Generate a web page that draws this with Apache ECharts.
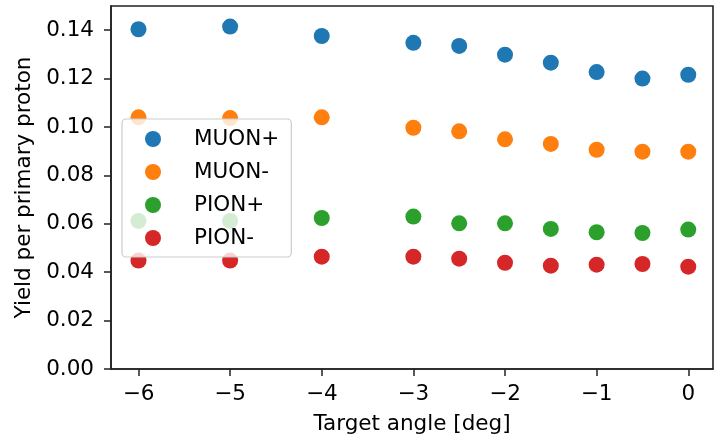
<!DOCTYPE html>
<html>
<head>
<meta charset="utf-8">
<script src="https://cdn.jsdelivr.net/npm/echarts@6/dist/echarts.min.js"></script>
<style>
  html, body { margin: 0; padding: 0; background: #fff; }
  #chart { width: 714px; height: 439px; }
</style>
</head>
<body>
<div id="chart"></div>
<script>
// Target angle scan: particle yields per primary proton
const angles = [-6, -5, -4, -3, -2.5, -2, -1.5, -1, -0.5, 0];
const muonPlus  = [0.1404, 0.1415, 0.1376, 0.1348, 0.1335, 0.1299, 0.1266, 0.1227, 0.1200, 0.1216];
const muonMinus = [0.1040, 0.1037, 0.1040, 0.0997, 0.0982, 0.0949, 0.0930, 0.0906, 0.0898, 0.0898];
const pionPlus  = [0.0612, 0.0612, 0.0624, 0.0630, 0.0602, 0.0602, 0.0579, 0.0565, 0.0562, 0.0576];
const pionMinus = [0.0448, 0.0448, 0.0464, 0.0464, 0.0456, 0.0439, 0.0427, 0.0431, 0.0434, 0.0423];

const seriesNames = ['MUON+', 'MUON-', 'PION+', 'PION-'];
const seriesColors = ['#1f77b4', '#ff7f0e', '#2ca02c', '#d62728'];
const seriesValues = [muonPlus, muonMinus, pionPlus, pionMinus];

const xTicks = [-6, -5, -4, -3, -2, -1, 0];
const yTicks = [0, 0.02, 0.04, 0.06, 0.08, 0.10, 0.12, 0.14];

const FONT = 'DejaVu Sans';
const FS = 21.5;
const fmtMinus = v => (v < 0 ? '\u2212' + Math.abs(v) : String(v));

const chart = echarts.init(document.getElementById('chart'), null, { renderer: 'canvas' });

chart.setOption({
  animation: false,
  backgroundColor: '#ffffff',
  textStyle: { fontFamily: FONT },
  grid: {
    left: 111, right: 1, top: 6, bottom: 70,
    show: true, borderColor: '#222', borderWidth: 1.6,
    backgroundColor: 'transparent',
    outerBoundsMode: 'none'
  },
  legend: {
    orient: 'vertical',
    left: 122, top: 119,
    padding: [9, 12, 8, 23],
    itemGap: 11,
    itemWidth: 32, itemHeight: 16,
    backgroundColor: 'rgba(255,255,255,0.8)',
    borderColor: '#cccccc', borderWidth: 1.2, borderRadius: 4,
    textStyle: { fontFamily: FONT, fontSize: FS, color: '#000', padding: [0, 0, 0, 20] },
    data: seriesNames.map(n => ({ name: n, icon: 'circle' }))
  },
  xAxis: {
    type: 'value', min: -6.3, max: 0.27,
    splitLine: { show: false },
    axisLine: { show: true, onZero: false, lineStyle: { color: '#222', width: 1.6 } },
    axisTick: { show: true, inside: false, length: 7, lineStyle: { color: '#222', width: 1.5 }, customValues: xTicks },
    axisLabel: { customValues: xTicks, formatter: fmtMinus, margin: 14, fontSize: FS, color: '#000', fontFamily: FONT },
    name: 'Target angle [deg]', nameLocation: 'middle', nameGap: 44,
    nameTextStyle: { fontSize: FS, color: '#000', fontFamily: FONT }
  },
  yAxis: {
    type: 'value', min: 0, max: 0.15,
    splitLine: { show: false },
    axisLine: { show: true, onZero: false, lineStyle: { color: '#222', width: 1.6 } },
    axisTick: { show: true, inside: false, length: 7, lineStyle: { color: '#222', width: 1.5 }, customValues: yTicks },
    axisLabel: { customValues: yTicks, formatter: v => v.toFixed(2), margin: 17, fontSize: FS, color: '#000', fontFamily: FONT },
    name: 'Yield per primary proton', nameLocation: 'middle', nameGap: 76, nameRotate: 90,
    nameTextStyle: { fontSize: FS, color: '#000', fontFamily: FONT }
  },
  series: seriesNames.map((name, i) => ({
    name,
    type: 'scatter',
    symbol: 'circle',
    symbolSize: 16,
    itemStyle: { color: seriesColors[i], opacity: 1 },
    data: angles.map((a, j) => [a, seriesValues[i][j]])
  }))
});
</script>
</body>
</html>
